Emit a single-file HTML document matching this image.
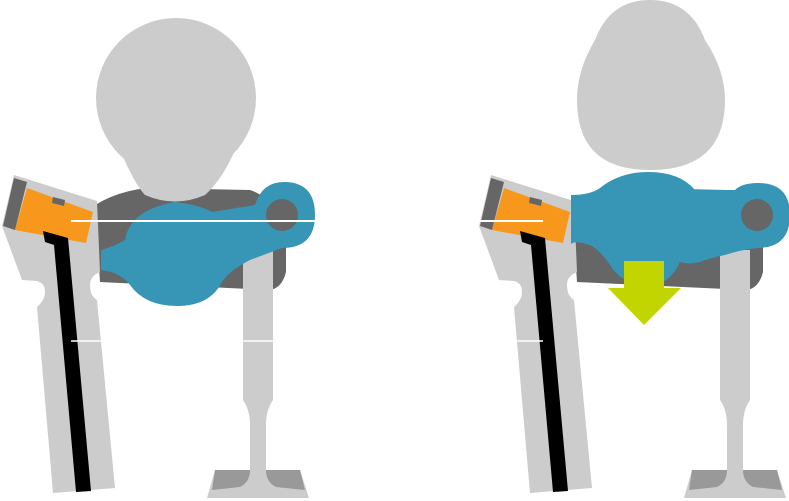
<!DOCTYPE html>
<html><head><style>html,body{margin:0;padding:0;background:#fff}svg{display:block}</style></head>
<body>
<svg width="789" height="501" viewBox="0 0 789 501" xmlns="http://www.w3.org/2000/svg">
<defs>
<g id="base">
  <!-- dark body -->
  <path d="M95,205 Q120,190 150,188 L250,190 Q280,200 286,240 L286,272 Q282,288 270,290 L100,282 Z" fill="#666"/>
  <!-- left bracket -->
  <path d="M14,175 L97,201 L100,272 Q90,276 90,285 Q90,296 97,300 L115,488 L53,493 L37,307 Q45,300 45,292 Q45,283 37,281 L22,280 L2,226 Z" fill="#ccc"/>
  <path d="M14,178 L27,182 L15,230 L3,226 Z" fill="#666"/>
  <path d="M27,188 L93,212 L86,243 L15,230 Z" fill="#f7981d"/>
  <path d="M53,197 L65,200 L64,206 L52,203 Z" fill="#666"/>
  <path d="M43,231 L68,238 L91,491 L76,492 L54,245 L45,242 Z" fill="#000"/>
  <!-- right leg -->
  <path d="M243,250 L273,250 L273,400 Q266,410 266,425 L266,470 L300,470 L309,498 L207,498 L215,470 L250,470 L250,425 Q250,410 243,400 Z" fill="#ccc"/>
  <path d="M215,470 L250,470 Q250,482 240,487 L212,490 Z M300,470 L266,470 Q266,482 276,487 L305,490 Z" fill="#999"/>
</g>
</defs>

<!-- LEFT -->
<use href="#base"/>
<circle cx="176" cy="98" r="80" fill="#ccc"/>
<path d="M120,150 Q135,185 145,195 Q175,208 205,195 Q222,180 235,150 Z" fill="#ccc"/>
<path d="M101,250 Q115,246 125,240 Q130,210 175,202 Q200,205 212,212 L255,205 Q262,182 284,182 Q315,182 315,215 Q315,248 282,248 L250,260 Q230,270 222,282 Q210,306 177,306 Q145,306 130,285 Q120,272 101,270 Z" fill="#3795b6"/>
<circle cx="282" cy="215" r="16" fill="#666"/>
<line x1="71" y1="221" x2="315" y2="221" stroke="#fff" stroke-width="2"/>
<line x1="71" y1="341" x2="102" y2="341" stroke="#fff" stroke-width="1.5"/>
<line x1="243" y1="341" x2="273" y2="341" stroke="#fff" stroke-width="1.5"/>

<!-- RIGHT -->
<g transform="translate(477,0)"><use href="#base"/></g>
<path d="M650,0 Q690,0 705,40 Q725,70 725,100 Q725,170 650,170 Q577,170 577,100 Q577,70 595,40 Q610,0 650,0 Z" fill="#ccc"/>
<path d="M571,195 Q590,195 600,188 Q620,172 648,172 Q680,172 695,190 L735,190 Q742,183 758,183 Q790,183 790,215 Q790,248 757,248 Q740,250 725,255 Q710,258 700,262 Q690,265 680,262 Q670,285 648,285 Q622,285 610,265 Q600,250 590,245 Q575,240 571,244 Z" fill="#3795b6"/>
<circle cx="757" cy="215" r="16" fill="#666"/>
<line x1="478" y1="221" x2="543" y2="221" stroke="#fff" stroke-width="2"/>
<line x1="514" y1="341" x2="543" y2="341" stroke="#fff" stroke-width="1.5"/>
<path d="M624,261 L664,261 L664,288 L681,288 L644,325 L608,288 L624,288 Z" fill="#c2d500"/>
</svg>
</body></html>
